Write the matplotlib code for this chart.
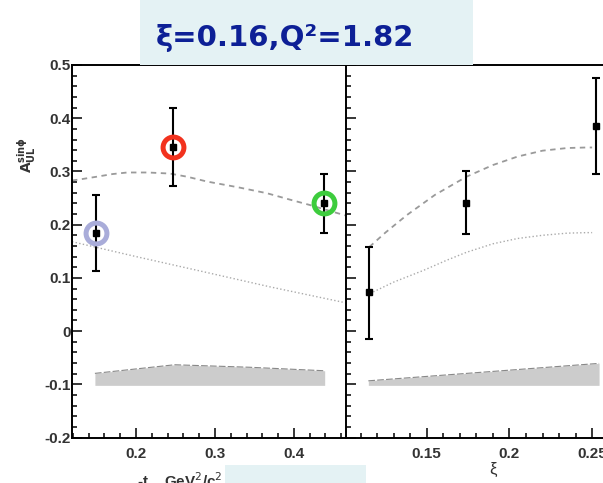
import matplotlib.pyplot as plt
from matplotlib.patches import Rectangle
from matplotlib.ticker import MultipleLocator

plt.rcParams["font.family"] = ["Liberation Sans", "DejaVu Sans"]

# left panel: asymmetry vs -t
t_pts = [0.149, 0.247, 0.438]
t_val = [0.184, 0.345, 0.240]
t_err_lo = [0.071, 0.073, 0.055]
t_err_hi = [0.072, 0.075, 0.055]
ring_colors = ["#a9acd9", "#f2321e", "#3dcc3d"]

t_dash = [0.119, 0.129, 0.150, 0.170, 0.189, 0.215, 0.243, 0.265, 0.290, 0.330,
          0.366, 0.395, 0.420, 0.445, 0.466]
y_dash_t = [0.283, 0.285, 0.290, 0.295, 0.298, 0.298, 0.296, 0.290, 0.281, 0.270,
            0.259, 0.247, 0.237, 0.226, 0.217]
t_dot = [0.119, 0.200, 0.281, 0.370, 0.466]
y_dot_t = [0.168, 0.140, 0.113, 0.083, 0.053]
t_band = [0.148, 0.249, 0.344, 0.439]
band_top_t = [-0.0795, -0.0633, -0.068, -0.0746]

# right panel: asymmetry vs xi
xi_pts = [0.1153, 0.1738, 0.2524]
xi_val = [0.073, 0.241, 0.385]
xi_err_lo = [0.088, 0.059, 0.090]
xi_err_hi = [0.085, 0.060, 0.091]

xi_dash = [0.1153, 0.125, 0.138, 0.155, 0.174, 0.190, 0.205, 0.220, 0.235, 0.2467, 0.250]
y_dash_xi = [0.158, 0.185, 0.218, 0.256, 0.290, 0.312, 0.328, 0.339, 0.344, 0.345, 0.345]
xi_dot = [0.1177, 0.130, 0.148, 0.162, 0.174, 0.190, 0.205, 0.220, 0.235, 0.2467, 0.250]
y_dot_xi = [0.0736, 0.092, 0.114, 0.133, 0.148, 0.164, 0.174, 0.180, 0.184, 0.185, 0.185]
xi_band = [0.1147, 0.2542]
band_top_xi = [-0.0935, -0.0607]
band_bottom = -0.102

fig = plt.figure(figsize=(6.03, 4.83), dpi=100)
W, H = 603, 483
ax1 = fig.add_axes([72 / W, 1 - 437.5 / H, 274 / W, 372.5 / H])
ax2 = fig.add_axes([346 / W, 1 - 437.5 / H, 263 / W, 372.5 / H])

dash_c = "#9a9a9a"
dot_c = "#aaaaaa"

# left
ax1.fill_between(t_band, band_bottom, band_top_t, color="#cccccc", lw=0)
ax1.plot(t_band, band_top_t, color="#888888", lw=0.8, dashes=(6, 2))
ax1.plot(t_dash, y_dash_t, color=dash_c, lw=1.3, dashes=(3, 2.5))
ax1.plot(t_dot, y_dot_t, color=dot_c, lw=1.0, ls=":")
ax1.errorbar(t_pts, t_val, yerr=[t_err_lo, t_err_hi], fmt="s", color="black",
             ms=5, lw=1.5, capsize=3, capthick=1.5, zorder=4)
for x, y, c in zip(t_pts, t_val, ring_colors):
    ax1.plot(x, y, "o", ms=15, mfc="none", mec=c, mew=3.6, zorder=5)
ax1.set_xlim(0.119, 0.466)

# right
ax2.fill_between(xi_band, band_bottom, band_top_xi, color="#cccccc", lw=0)
ax2.plot(xi_band, band_top_xi, color="#888888", lw=0.8, dashes=(6, 2))
ax2.plot(xi_dash, y_dash_xi, color=dash_c, lw=1.3, dashes=(3, 2.5))
ax2.plot(xi_dot, y_dot_xi, color=dot_c, lw=1.0, ls=":")
ax2.errorbar(xi_pts, xi_val, yerr=[xi_err_lo, xi_err_hi], fmt="s", color="black",
             ms=5, lw=1.5, capsize=3, capthick=1.5, zorder=4)
ax2.set_xlim(0.1012, 0.2602)

for ax in (ax1, ax2):
    ax.set_ylim(-0.2, 0.5)
    ax.yaxis.set_major_locator(MultipleLocator(0.1))
    ax.yaxis.set_minor_locator(MultipleLocator(0.02))
    ax.tick_params(which="both", direction="in", width=1.1, colors="black",
                   labelcolor="#333333", labelsize=11)
    ax.tick_params(which="major", length=7)
    ax.tick_params(which="minor", length=3.6)
    ax.tick_params(axis="y", pad=1)
    ax.tick_params(axis="x", pad=7)
    for s in ax.spines.values():
        s.set_linewidth(1.4)

ax1.xaxis.set_minor_locator(MultipleLocator(0.02))
ax1.set_yticks([0.5, 0.4, 0.3, 0.2, 0.1, 0, -0.1, -0.2])
ax1.set_yticklabels(["0.5", "0.4", "0.3", "0.2", "0.1", "0", "-0.1", "-0.2"],
                    fontweight="bold")
ax1.set_xticks([0.2, 0.3, 0.4])
ax1.set_xticklabels(["0.2", "0.3", "0.4"], fontweight="bold")
ax1.spines["right"].set_visible(False)

ax2.set_xticks([0.15, 0.2, 0.25])
ax2.set_xticklabels(["0.15", "0.2", "0.25"], fontweight="bold")
ax2.xaxis.set_minor_locator(MultipleLocator(0.01))
ax2.set_yticklabels([])

# axis titles
fig.text(27 / W, 1 - 155 / H, r"$\mathbf{A}_{\mathbf{UL}}^{\mathbf{sin\phi}}$",
         rotation=90, ha="center", va="center", fontsize=10, color="#333333")
fig.text(137 / W, 1 - 471 / H, r"-t    GeV$^2$/c$^2$", ha="left", va="top",
         fontsize=11, fontweight="bold", color="#333333")
fig.text(493 / W, 1 - 469 / H, "ξ", ha="center", va="center",
         fontsize=12, color="#333333")

# title box
fig.add_artist(Rectangle((140 / W, 1 - 65 / H), 333 / W, 65 / H,
                         transform=fig.transFigure, color="#e4f2f4", lw=0, zorder=10))
fig.text(285 / W, 1 - 38 / H, "ξ=0.16,Q²=1.82", ha="center", va="center",
         fontsize=21, fontweight="bold", color="#0d2096", zorder=11,
         family=["DejaVu Sans"])
fig.add_artist(Rectangle((225 / W, 0), 141 / W, 18 / H,
                         transform=fig.transFigure, color="#e4f2f4", lw=0, zorder=10))

fig.savefig("out.png", dpi=100)
